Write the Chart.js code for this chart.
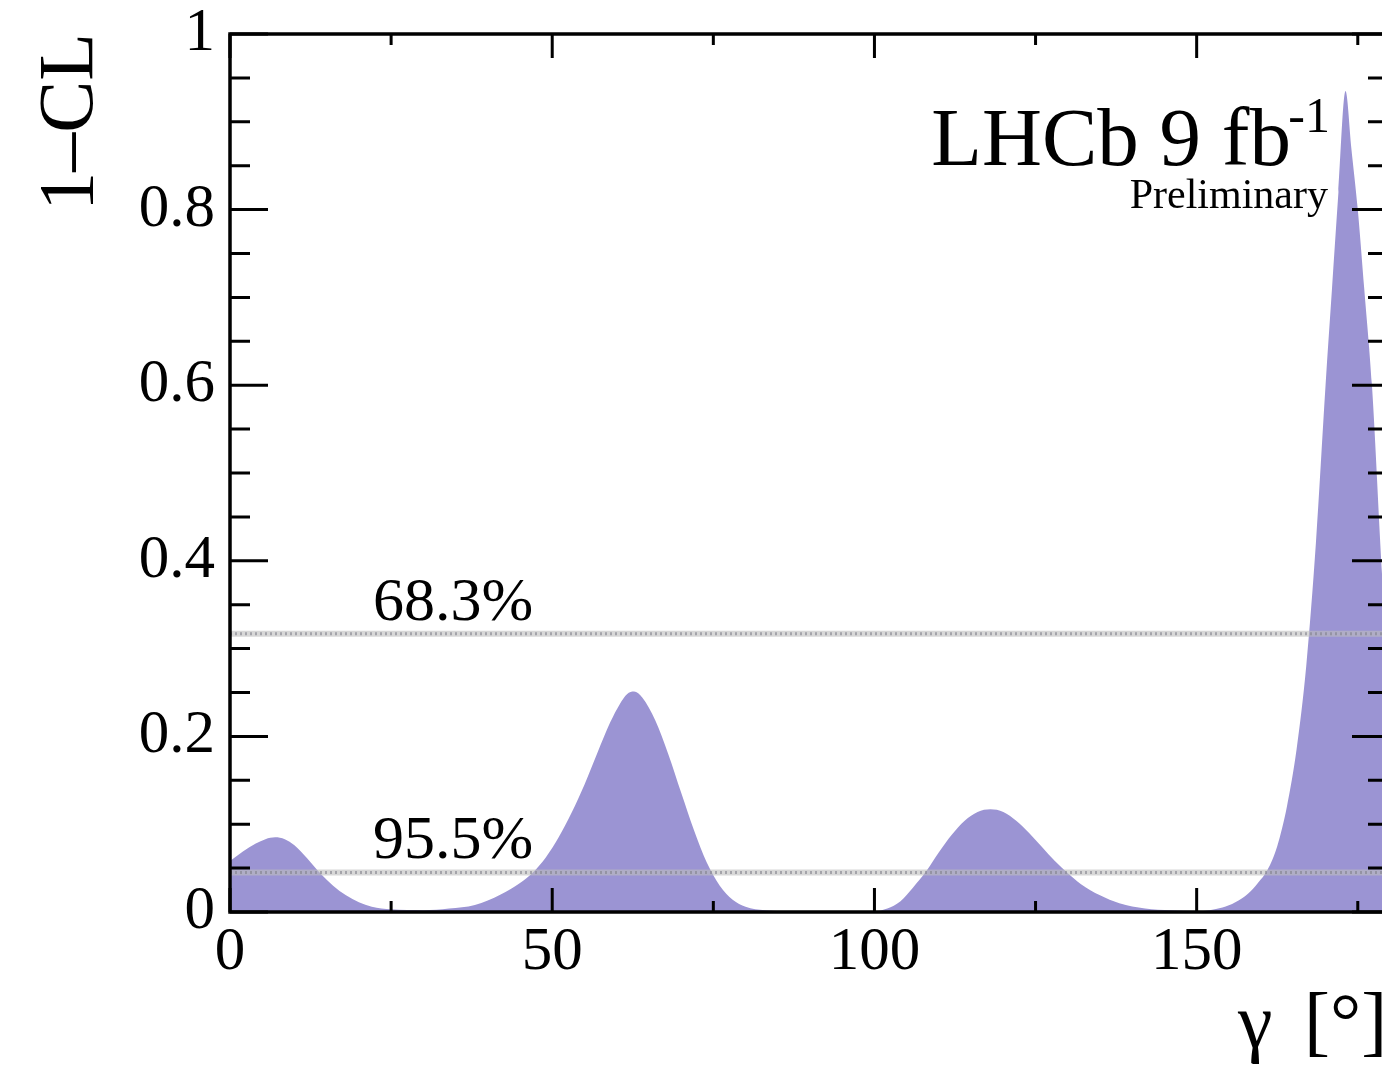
<!DOCTYPE html>
<html>
<head>
<meta charset="utf-8">
<title>LHCb gamma scan</title>
<script src="https://cdn.jsdelivr.net/npm/chart.js@4.4.1/dist/chart.umd.min.js"></script>
<style>
  html, body { margin: 0; padding: 0; background: #fff; overflow: hidden; }
  #gammaChart { display: block; }
</style>
</head>
<body>
<canvas id="gammaChart" width="1420" height="1070"></canvas>
<script>
// 1-CL profile vs gamma
const gammaDeg = [
  0, 2, 4, 5.5, 7, 8.5, 10, 12, 14, 16, 18, 20, 22, 25, 30, 34,
  38, 42, 45, 47, 49, 51, 53, 55, 57, 59, 60.5, 61.6, 62.7, 64, 66, 68, 70, 72, 74, 76, 78, 80, 83,
  90, 100, 102, 104, 106, 108, 110, 112, 114, 116, 118, 120, 122, 124, 126, 128, 130, 132, 135, 138, 142, 146,
  150, 152, 154, 156, 158, 159.5, 161, 162.5, 164, 165.5, 167, 168.5, 170, 171, 172, 173.1,
  174, 175, 176, 177.2, 178.8, 180
];
const oneMinusCL = [
  0.058, 0.069, 0.078, 0.083, 0.085, 0.083, 0.076, 0.061, 0.044, 0.030, 0.019, 0.011, 0.006, 0.003, 0.002, 0.004,
  0.008, 0.020, 0.033, 0.045, 0.062, 0.085, 0.113, 0.145, 0.181, 0.216, 0.237, 0.248, 0.251, 0.244, 0.218, 0.180, 0.136, 0.093, 0.056, 0.030, 0.014, 0.006, 0.002,
  0.0005, 0.001, 0.004, 0.012, 0.028, 0.046, 0.068, 0.088, 0.104, 0.114, 0.117, 0.114, 0.104, 0.090, 0.074, 0.058, 0.044, 0.032, 0.019, 0.010, 0.004, 0.002,
  0.001, 0.002, 0.005, 0.011, 0.021, 0.033, 0.048, 0.075, 0.120, 0.185, 0.280, 0.420, 0.600, 0.710, 0.820, 0.935,
  0.870, 0.800, 0.710, 0.600, 0.380, 0.250
];

// confidence levels drawn as dotted lines
const clLevels = [0.317, 0.045];
const clLevelLabels = ['68.3%', '95.5%'];

// ticks
const xMajorTicks = [0, 50, 100, 150];
const xMinorTicks = [25, 75, 125, 175];
const yMajorTicks = [0, 0.2, 0.4, 0.6, 0.8, 1];
const yMinorTicks = [0.05, 0.1, 0.15, 0.25, 0.3, 0.35, 0.45, 0.5, 0.55, 0.65, 0.7, 0.75, 0.85, 0.9, 0.95];
const yTickLabels = ['0', '0.2', '0.4', '0.6', '0.8', '1'];
const xTickLabels = ['0', '50', '100', '150'];

const SERIF = '"Liberation Serif", "DejaVu Serif", serif';
const FILL = '#9b94d3';

// light band + darker dots for each CL line
const levelSets = [];
clLevels.forEach(lv => {
  const pts = [{ x: 0, y: lv }, { x: 180, y: lv }];
  levelSets.push({
    data: pts, borderColor: 'rgba(190,190,190,0.6)', borderWidth: 6,
    pointRadius: 0, fill: false, order: 1
  });
  levelSets.push({
    data: pts, borderColor: 'rgba(130,130,140,0.6)', borderWidth: 3, borderDash: [2, 3],
    pointRadius: 0, fill: false, order: 0
  });
});

// no label overhang: the plot frame sits at fixed pixels
const noOverhang = s => {
  s.paddingTop = 0; s.paddingBottom = 0; s.paddingLeft = 0; s.paddingRight = 0;
};

const frameTicks = {
  id: 'frameTicks',
  afterDatasetsDraw(chart) {
    const { ctx, chartArea: a, scales: { x, y } } = chart;
    ctx.save();
    ctx.strokeStyle = '#000';
    ctx.lineWidth = 3;
    ctx.beginPath();
    const seg = (x0, y0, x1, y1) => { ctx.moveTo(x0, y0); ctx.lineTo(x1, y1); };
    yMajorTicks.forEach(v => {
      const p = y.getPixelForValue(v);
      seg(a.left, p, a.left + 38, p);
      seg(a.right, p, a.right - 38, p);
    });
    yMinorTicks.forEach(v => {
      const p = y.getPixelForValue(v);
      seg(a.left, p, a.left + 20, p);
      seg(a.right, p, a.right - 22, p);
    });
    xMajorTicks.forEach(v => {
      const p = x.getPixelForValue(v);
      seg(p, a.bottom, p, a.bottom - 24);
      seg(p, a.top, p, a.top + 24);
    });
    xMinorTicks.forEach(v => {
      const p = x.getPixelForValue(v);
      seg(p, a.bottom, p, a.bottom - 11);
      seg(p, a.top, p, a.top + 11);
    });
    ctx.stroke();
    ctx.lineWidth = 3.5;
    ctx.strokeRect(a.left, a.top, a.right - a.left, a.bottom - a.top);
    ctx.restore();
  }
};

const plotTexts = {
  id: 'plotTexts',
  afterDraw(chart) {
    const { ctx, scales: { x, y } } = chart;
    ctx.save();
    ctx.fillStyle = '#000';
    ctx.textBaseline = 'alphabetic';

    // CL labels
    ctx.font = '62px ' + SERIF;
    ctx.textAlign = 'left';
    clLevels.forEach((lv, i) => {
      ctx.fillText(clLevelLabels[i], x.getPixelForValue(22.2), y.getPixelForValue(lv) - 14);
    });

    // LHCb 9 fb^-1 / Preliminary
    ctx.textAlign = 'right';
    ctx.font = '83px ' + SERIF;
    ctx.fillText('LHCb 9 fb', 1291, 165);
    ctx.font = '50px ' + SERIF;
    ctx.fillText('-1', 1330, 132);
    ctx.font = '42px ' + SERIF;
    ctx.fillText('Preliminary', 1328, 208);

    // axis titles
    ctx.font = '78px ' + SERIF;
    ctx.textAlign = 'left';
    ctx.fillText('\u03b3', 1238, 1047);
    ctx.fillText('[\u00b0]', 1304, 1047);

    ctx.translate(92, 122);
    ctx.rotate(-Math.PI / 2);
    ctx.textAlign = 'center';
    ctx.font = '78px ' + SERIF;
    ctx.fillText('1\u2013CL', 0, 0);
    ctx.restore();
  }
};

const chart = new Chart(document.getElementById('gammaChart'), {
  type: 'line',
  data: {
    datasets: [
      ...levelSets,
      {
        data: gammaDeg.map((g, i) => ({ x: g, y: oneMinusCL[i] })),
        backgroundColor: FILL,
        borderColor: FILL,
        borderWidth: 0,
        pointRadius: 0,
        fill: 'origin',
        cubicInterpolationMode: 'monotone',
        order: 2
      }
    ]
  },
  options: {
    responsive: false,
    animation: false,
    events: [],
    layout: { padding: { top: 34, right: 30, left: 0, bottom: 0 } },
    plugins: { legend: { display: false }, tooltip: { enabled: false } },
    scales: {
      x: {
        type: 'linear', min: 0, max: 180,
        grid: { display: false, drawTicks: false },
        border: { display: false },
        afterBuildTicks: s => { s.ticks = xMajorTicks.map(v => ({ value: v })); },
        afterFit: s => { s.height = 158; noOverhang(s); },
        ticks: {
          padding: 4, maxRotation: 0, autoSkip: false,
          color: '#000', font: { family: SERIF, size: 61 },
          callback: (v) => xTickLabels[xMajorTicks.indexOf(v)]
        }
      },
      y: {
        type: 'linear', min: 0, max: 1,
        grid: { display: false, drawTicks: false },
        border: { display: false },
        afterBuildTicks: s => { s.ticks = yMajorTicks.map(v => ({ value: v })); },
        afterFit: s => { s.width = 230; noOverhang(s); },
        ticks: {
          padding: 15, autoSkip: false,
          color: '#000', font: { family: SERIF, size: 61 },
          callback: (v) => yTickLabels[yMajorTicks.indexOf(v)]
        }
      }
    }
  },
  plugins: [frameTicks, plotTexts]
});
</script>
</body>
</html>
